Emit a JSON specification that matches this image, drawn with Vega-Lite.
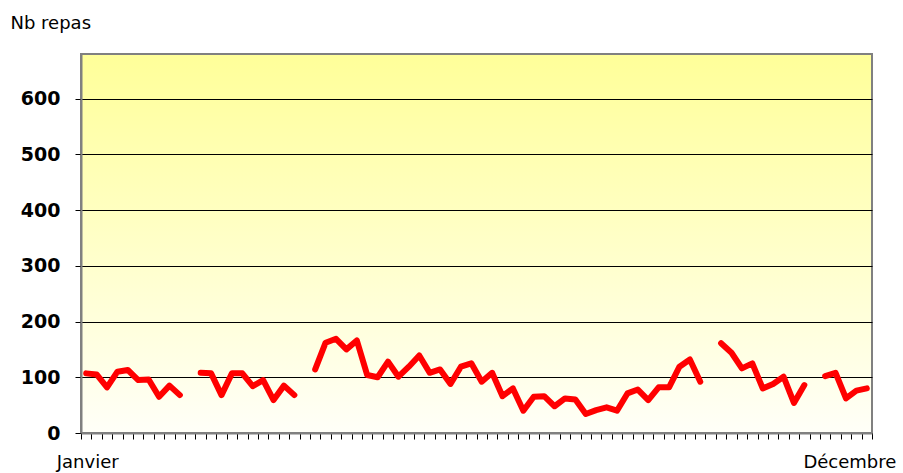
{
  "$schema": "https://vega.github.io/schema/vega-lite/v6.json",
  "width": 791,
  "height": 379,
  "autosize": "none",
  "padding": {"left": 81, "top": 54, "right": 31, "bottom": 40},
  "background": "white",
  "config": {
    "view": {
      "stroke": "#808080",
      "strokeWidth": 2,
      "fill": {
        "gradient": "linear", "x1": 0, "y1": 0, "x2": 0, "y2": 1,
        "stops": [
          {"offset": 0, "color": "#FFFF99"},
          {"offset": 0.5, "color": "#FFFFC8"},
          {"offset": 1, "color": "#FFFFF8"}
        ]
      }
    },
    "font": "DejaVu Sans"
  },
  "data": {
    "values": [
      {"jour": 1, "repas": 107}, {"jour": 2, "repas": 105}, {"jour": 3, "repas": 82}, {"jour": 4, "repas": 110},
      {"jour": 5, "repas": 113}, {"jour": 6, "repas": 95}, {"jour": 7, "repas": 96}, {"jour": 8, "repas": 65},
      {"jour": 9, "repas": 85}, {"jour": 10, "repas": 68}, {"jour": 11, "repas": null}, {"jour": 12, "repas": 108},
      {"jour": 13, "repas": 107}, {"jour": 14, "repas": 68}, {"jour": 15, "repas": 107}, {"jour": 16, "repas": 107},
      {"jour": 17, "repas": 84}, {"jour": 18, "repas": 95}, {"jour": 19, "repas": 59}, {"jour": 20, "repas": 85},
      {"jour": 21, "repas": 68}, {"jour": 22, "repas": null}, {"jour": 23, "repas": 114}, {"jour": 24, "repas": 162},
      {"jour": 25, "repas": 169}, {"jour": 26, "repas": 150}, {"jour": 27, "repas": 166}, {"jour": 28, "repas": 104},
      {"jour": 29, "repas": 100}, {"jour": 30, "repas": 128}, {"jour": 31, "repas": 101}, {"jour": 32, "repas": 119},
      {"jour": 33, "repas": 139}, {"jour": 34, "repas": 108}, {"jour": 35, "repas": 114}, {"jour": 36, "repas": 88},
      {"jour": 37, "repas": 119}, {"jour": 38, "repas": 125}, {"jour": 39, "repas": 92}, {"jour": 40, "repas": 108},
      {"jour": 41, "repas": 66}, {"jour": 42, "repas": 80}, {"jour": 43, "repas": 40}, {"jour": 44, "repas": 65},
      {"jour": 45, "repas": 66}, {"jour": 46, "repas": 48}, {"jour": 47, "repas": 62}, {"jour": 48, "repas": 60},
      {"jour": 49, "repas": 34}, {"jour": 50, "repas": 41}, {"jour": 51, "repas": 46}, {"jour": 52, "repas": 40},
      {"jour": 53, "repas": 71}, {"jour": 54, "repas": 78}, {"jour": 55, "repas": 59}, {"jour": 56, "repas": 82},
      {"jour": 57, "repas": 82}, {"jour": 58, "repas": 119}, {"jour": 59, "repas": 132}, {"jour": 60, "repas": 92},
      {"jour": 61, "repas": null}, {"jour": 62, "repas": 161}, {"jour": 63, "repas": 144}, {"jour": 64, "repas": 116},
      {"jour": 65, "repas": 125}, {"jour": 66, "repas": 80}, {"jour": 67, "repas": 88}, {"jour": 68, "repas": 101},
      {"jour": 69, "repas": 54}, {"jour": 70, "repas": 86}, {"jour": 71, "repas": null}, {"jour": 72, "repas": 102},
      {"jour": 73, "repas": 108}, {"jour": 74, "repas": 62}, {"jour": 75, "repas": 76}, {"jour": 76, "repas": 80}
    ]
  },
  "mark": {"type": "line", "color": "#FF0000", "strokeWidth": 6, "strokeCap": "round", "strokeJoin": "round", "invalid": "break-paths-show-domains"},
  "encoding": {
    "x": {
      "field": "jour", "type": "ordinal",
      "scale": {"paddingInner": 0, "paddingOuter": 0},
      "axis": {
        "title": null,
        "tickBand": "extent",
        "ticks": true,
        "tickSize": 6,
        "tickColor": "#000000",
        "tickWidth": 1,
        "domain": true,
        "domainColor": "#808080",
        "domainWidth": 2,
        "labelAngle": 0,
        "labelExpr": "datum.value == 1 ? 'Janvier' : datum.value == 75 ? 'Décembre' : ''",
        "labelFontSize": 18,
        "labelFont": "DejaVu Sans",
        "labelColor": "#000000",
        "labelPadding": 14,
        "labelOverlap": false,
        "labelBaseline": "top",
        "labelOffset": {"condition": {"test": "datum.value == 1", "value": 1}, "value": -7}
      }
    },
    "y": {
      "field": "repas", "type": "quantitative",
      "scale": {"domain": [0, 680], "nice": false},
      "axis": {
        "values": [0, 100, 200, 300, 400, 500, 600],
        "grid": true,
        "gridColor": "#000000",
        "gridWidth": 1,
        "gridOpacity": 1,
        "tickSize": 6,
        "tickColor": "#000000",
        "domainColor": "#808080",
        "domainWidth": 2,
        "labelFontSize": 19,
        "labelFontWeight": "bold",
        "labelFont": "DejaVu Sans",
        "labelColor": "#000000",
        "labelPadding": 15,
        "title": "Nb repas",
        "titleAngle": 0,
        "titleAlign": "left",
        "titleBaseline": "alphabetic",
        "titleX": -71,
        "titleY": -26,
        "titleFontSize": 18,
        "titleFontWeight": "normal",
        "titleFont": "DejaVu Sans",
        "titleColor": "#000000"
      }
    }
  }
}
